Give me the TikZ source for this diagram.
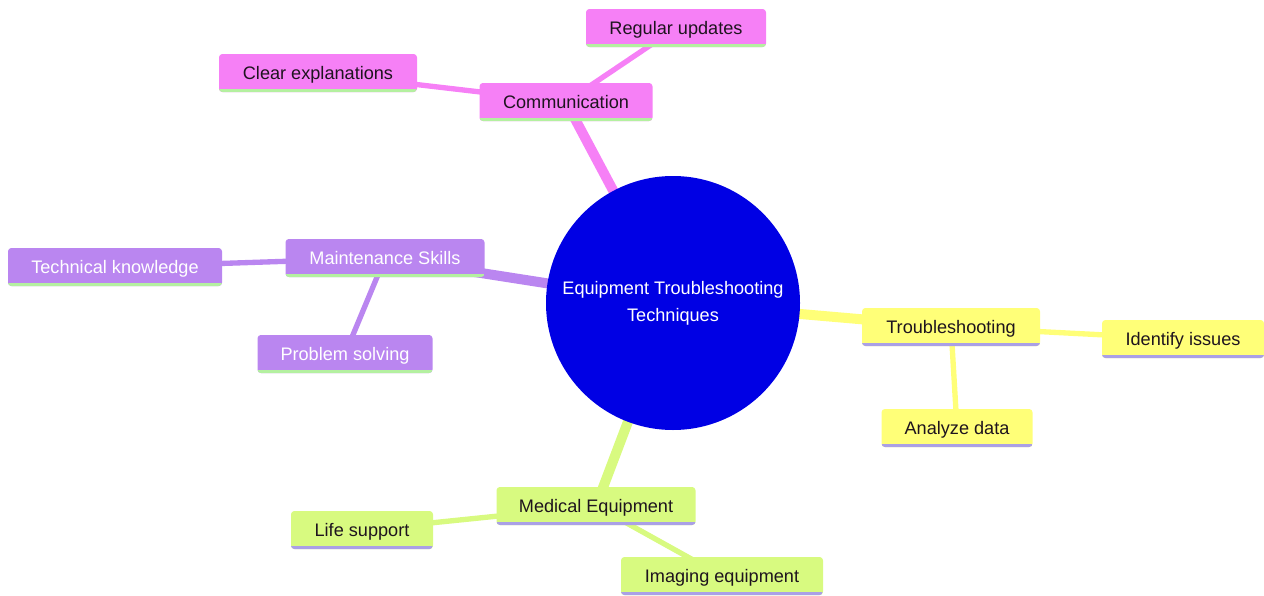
\documentclass[tikz,border=0pt]{standalone}
\usepackage{fontspec}
\setmainfont{Liberation Sans}
\usetikzlibrary{backgrounds}
\definecolor{rootc}{RGB}{0,0,228}
\definecolor{pinkc}{RGB}{246,128,246}
\definecolor{purplec}{RGB}{186,134,240}
\definecolor{yellowc}{RGB}{255,255,120}
\definecolor{greenc}{RGB}{216,250,128}
\definecolor{greenline}{RGB}{180,240,160}
\definecolor{lavline}{RGB}{170,160,230}
\definecolor{darktext}{RGB}{30,20,30}
\tikzset{
  mmbox/.style={rectangle, rounded corners=2.5pt, minimum height=28.5pt, inner sep=0pt,
    text height=10pt, text depth=0pt,
    font=\fontsize{13.6}{16}\selectfont},
  bline/.style={path picture={\draw[line width=4pt, #1]
    (path picture bounding box.south west) -- (path picture bounding box.south east);}},
  pinkbox/.style={mmbox, fill=pinkc, text=darktext, bline=greenline},
  purplebox/.style={mmbox, fill=purplec, text=white, bline=greenline},
  yellowbox/.style={mmbox, fill=yellowc, text=darktext, bline=lavline},
  greenbox/.style={mmbox, fill=greenc, text=darktext, bline=lavline},
  rootnode/.style={circle, fill=rootc, text=white, minimum size=190.5pt, inner sep=0pt,
    align=center, font=\fontsize{13.6}{20}\selectfont},
  edgeA/.style={line width=7.5pt},
  edgeB/.style={line width=4pt},
}
\begin{document}
\begin{tikzpicture}[x=0.75pt,y=-0.75pt]
\useasboundingbox (0,0) rectangle (1264,596);
\node[rootnode] (root) at (673,303) {Equipment Troubleshooting\\Techniques};
\node[pinkbox, minimum width=173*0.75pt] (comm) at (566,102) {Communication};
\node[pinkbox, minimum width=180*0.75pt] (reg) at (676,28) {Regular updates};
\node[pinkbox, minimum width=198*0.75pt] (clear) at (318,73) {Clear explanations};
\node[purplebox, minimum width=199*0.75pt] (maint) at (385,258) {Maintenance Skills};
\node[purplebox, minimum width=214*0.75pt] (tech) at (115,267) {Technical knowledge};
\node[purplebox, minimum width=175*0.75pt] (prob) at (345,354) {Problem solving};
\node[yellowbox, minimum width=178*0.75pt] (trouble) at (951,327) {Troubleshooting};
\node[yellowbox, minimum width=162*0.75pt] (ident) at (1183,339) {Identify issues};
\node[yellowbox, minimum width=151*0.75pt] (anal) at (957,428) {Analyze data};
\node[greenbox, minimum width=199*0.75pt] (med) at (596,506) {Medical Equipment};
\node[greenbox, minimum width=142*0.75pt] (life) at (362,530) {Life support};
\node[greenbox, minimum width=202*0.75pt] (img) at (722,576) {Imaging equipment};
\begin{pgfonlayer}{background}
\draw[edgeA, pinkc] (root.center) -- (comm.center);
\draw[edgeB, pinkc] (comm.center) -- (reg.center);
\draw[edgeB, pinkc] (comm.center) -- (clear.center);
\draw[edgeA, purplec] (root.center) -- (maint.center);
\draw[edgeB, purplec] (maint.center) -- (tech.center);
\draw[edgeB, purplec] (maint.center) -- (prob.center);
\draw[edgeA, yellowc] (root.center) -- (trouble.center);
\draw[edgeB, yellowc] (trouble.center) -- (ident.center);
\draw[edgeB, yellowc] (trouble.center) -- (anal.center);
\draw[edgeA, greenc] (root.center) -- (med.center);
\draw[edgeB, greenc] (med.center) -- (life.center);
\draw[edgeB, greenc] (med.center) -- (img.center);
\end{pgfonlayer}
\end{tikzpicture}
\end{document}
